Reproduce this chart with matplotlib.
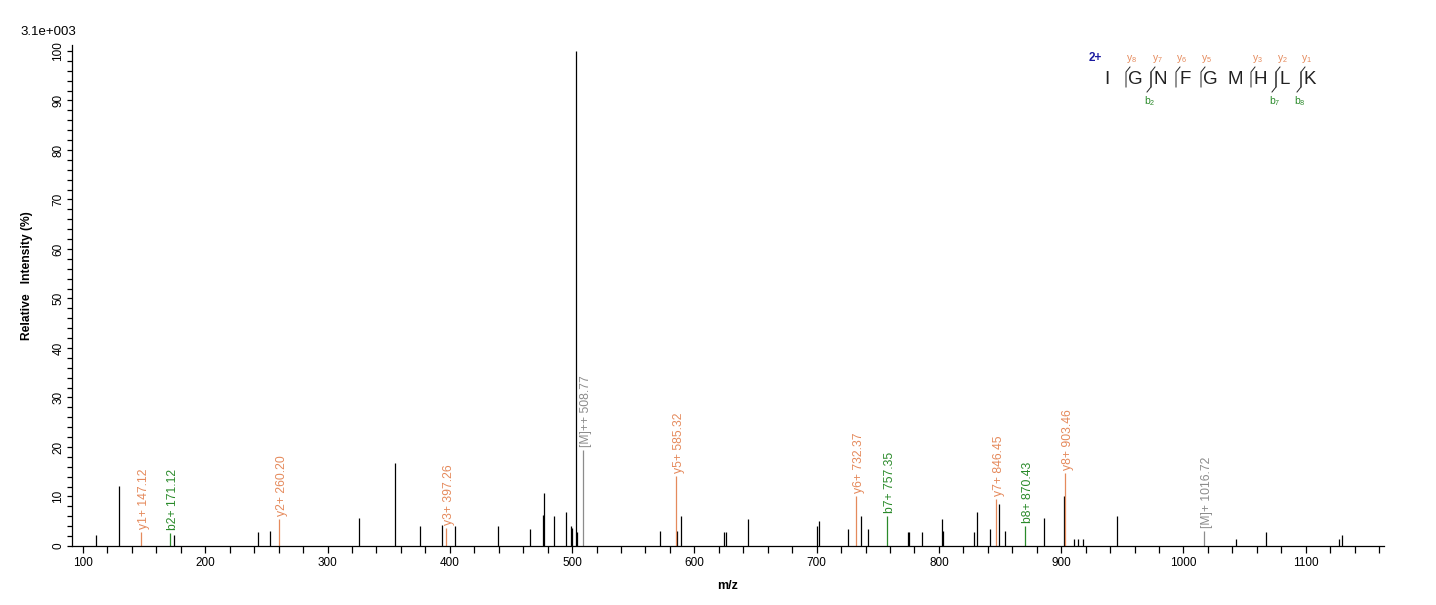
import matplotlib
matplotlib.use('Agg')
import matplotlib.pyplot as plt
from matplotlib.ticker import MultipleLocator
from matplotlib.lines import Line2D

plt.rcParams['font.family'] = ['Liberation Sans', 'DejaVu Sans']

# unannotated peaks (m/z, relative intensity %)
peak_mz = [110.4, 129.2, 174.7, 243.0, 253.3, 326.0, 355.3, 376.0, 393.2, 403.9,
           439.0, 465.3, 476.2, 477.0, 484.9, 494.7, 498.8, 499.9, 502.9, 503.7,
           571.6, 585.6, 588.8, 624.3, 626.2, 643.9, 700.4, 701.7, 725.5, 736.4,
           741.8, 774.5, 775.9, 786.0, 802.4, 803.2, 828.6, 831.0, 841.6, 849.0,
           853.9, 886.1, 902.5, 910.4, 913.7, 917.8, 945.6, 1043.0, 1067.5,
           1127.3, 1129.7]
peak_int = [2.2, 12.1, 2.2, 2.8, 3.0, 5.6, 16.8, 4.0, 4.3, 4.0,
            4.0, 3.4, 6.3, 10.7, 6.1, 6.9, 4.0, 3.6, 100.0, 2.8,
            3.0, 3.0, 6.1, 2.8, 2.8, 5.4, 4.0, 5.0, 3.5, 6.0,
            3.5, 2.8, 2.8, 2.8, 5.4, 3.0, 2.8, 6.9, 3.5, 8.5,
            3.0, 5.6, 10.1, 1.4, 1.4, 1.4, 6.0, 1.4, 2.8,
            1.4, 2.2]

# annotated fragment ions
ion_mz = [147.12, 171.12, 260.20, 397.26, 508.77, 585.32, 732.37, 757.35,
          846.45, 870.43, 903.46, 1016.72]
ion_int = [2.8, 2.6, 5.4, 3.7, 19.4, 14.1, 10.0, 6.0, 9.5, 4.0, 14.7, 3.0]
ion_label = ['y1+', 'b2+', 'y2+', 'y3+', '[M]++', 'y5+', 'y6+', 'b7+',
             'y7+', 'b8+', 'y8+', '[M]+']
ion_kind = ['y', 'b', 'y', 'y', 'M', 'y', 'y', 'b', 'y', 'b', 'y', 'M']

# peptide sequence and observed cleavages
sequence = ['I', 'G', 'N', 'F', 'G', 'M', 'H', 'L', 'K']
y_sites = [1, 2, 3, 4, 6, 7, 8]
y_names = ['8', '7', '6', '5', '3', '2', '1']
b_sites = [2, 7, 8]
b_names = ['2', '7', '8']

colors = {'y': '#E58A5C', 'b': '#2A8A2A', 'M': '#8C8C8C'}

W, H = 1436, 605
fig = plt.figure(figsize=(W / 100, H / 100), dpi=100)
ax = fig.add_axes([72 / W, 1 - 546 / H, (1384 - 72) / W, (546 - 45) / H])

ax.vlines(peak_mz, 0, peak_int, color='black', lw=0.9)
for mz, inten, lab, kind in zip(ion_mz, ion_int, ion_label, ion_kind):
    c = colors[kind]
    ax.vlines(mz, 0, inten, color=c, lw=0.9)
    ax.annotate(f'{lab} {mz:.2f}', xy=(mz, inten), xytext=(3, 3),
                textcoords='offset pixels', rotation=90, ha='center',
                va='bottom', fontsize=8.7, color=c)

ax.set_xlim(91, 1164)
ax.set_ylim(0, 101.2)
ax.xaxis.set_major_locator(MultipleLocator(100))
ax.xaxis.set_minor_locator(MultipleLocator(20))
ax.yaxis.set_major_locator(MultipleLocator(10))
ax.yaxis.set_minor_locator(MultipleLocator(2))
ax.tick_params(axis='x', which='both', length=5, width=0.9, labelsize=8.5, pad=3)
ax.tick_params(axis='y', which='both', length=3.5, width=0.9, labelsize=8.5, pad=2)
for t in ax.get_yticklabels():
    t.set_rotation(90)
    t.set_va('center')
for s in ['top', 'right']:
    ax.spines[s].set_visible(False)
for s in ['left', 'bottom']:
    ax.spines[s].set_linewidth(0.9)

ax.set_xlabel('m/z', fontsize=9, fontweight='bold', labelpad=8)
ax.set_ylabel('Relative   Intensity (%)', fontsize=8.7, fontweight='bold')
ax.yaxis.set_label_coords(-0.03, 0.54)

fig.text(20 / W, 1 - 32 / H, '3.1e+003', fontsize=9.5, va='center', ha='left')

# sequence annotation (figure pixel layout)
def fx(px):
    return px / W

def fy(py):
    return 1 - py / H

fig.text(fx(1095), fy(58), '2+', color='#1a1aa0', fontsize=8.5, fontweight='bold',
         ha='center', va='center')
for i, aa in enumerate(sequence):
    x = 1107 if i == 0 else 1110 + i * 25
    fig.text(fx(x), fy(79), aa, fontsize=13.5, color='#222222', ha='center', va='center')

def site_x(k):
    return 1126 + (k - 1) * 25

for k, n in zip(y_sites, y_names):
    x = site_x(k)
    fig.add_artist(Line2D([fx(x), fx(x), fx(x + 4)], [fy(87), fy(72), fy(67)],
                          color='#222222', lw=0.7))
    fig.text(fx(x + 6), fy(59), r'$\mathregular{y_{' + n + '}}$', color=colors['y'],
             fontsize=7.5, ha='center', va='center')
for k, n in zip(b_sites, b_names):
    x = site_x(k)
    fig.add_artist(Line2D([fx(x), fx(x), fx(x - 4)], [fy(72), fy(87), fy(92)],
                          color='#222222', lw=0.7))
    fig.text(fx(x - 1), fy(101), r'$\mathregular{b_{' + n + '}}$', color=colors['b'],
             fontsize=7.5, ha='center', va='center')

fig.savefig('out.png', dpi=100)
